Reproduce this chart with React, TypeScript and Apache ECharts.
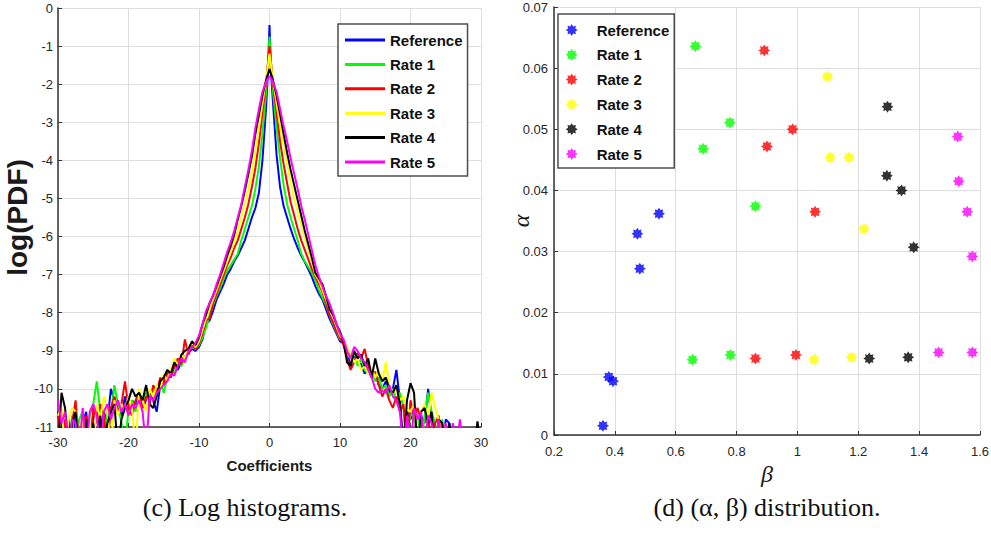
import React, { useEffect, useRef } from "react";
import * as echarts from "echarts";

// ---------- Left chart: log histograms ----------
const xLeftTail = [
  -30, -29.5, -29, -28.5, -28, -27.5, -27, -26.5, -26, -25.5,
  -25, -24.5, -24, -23.5, -23, -22.5, -22, -21.5, -21, -20.5,
  -20, -19.5, -19, -18.5, -18, -17.5, -17, -16.5, -16, -15.5,
  -15, -14.5, -14, -13.5, -13, -12.5, -12, -11.5, -11, -10.5,
];
const xCore = [
  -10, -9.5, -9, -8.5, -8, -7.5, -7, -6.5, -6, -5.5,
  -5, -4.5, -4, -3.5, -3, -2.5, -2, -1.5, -1, -0.5,
  -0.25, 0, 0.25,
  0.5, 1, 1.5, 2, 2.5, 3, 3.5, 4, 4.5, 5,
  5.5, 6, 6.5, 7, 7.5, 8, 8.5, 9, 9.5, 10,
];
const xRightTail = [
  10.5, 11, 11.5, 12, 12.5, 13, 13.5, 14, 14.5, 15,
  15.5, 16, 16.5, 17, 17.5, 18, 18.5, 19, 19.5, 20,
  20.5, 21, 21.5, 22, 22.5, 23, 23.5, 24, 24.5, 25,
  25.5, 26, 26.5, 27, 27.5, 28, 28.5, 29, 29.5, 30,
];

const refLeft = [
  -10.6, -10.9, -11.6, -10.8, -11.6, -10.7, -11.6, -10.9, -10.6, -11.6,
  -10.8, -10.5, -11.6, -10.6, -10.9, -10.0, -10.3, -10.5, -10.7, -10.2,
  -10.6, -10.3, -10.4, -10.2, -10.5, -10.3, -10.1, -10.3, -10.6, -9.9,
  -9.8, -9.6, -9.7, -9.4, -9.5, -9.3, -9.2, -9.05, -8.95, -9.0,
];
const refCore = [
  -8.9, -8.7, -8.3, -8.2, -7.95, -7.65, -7.45, -7.25, -7.0, -6.85,
  -6.65, -6.5, -6.3, -6.1, -5.8, -5.5, -5.25, -4.85, -4.0, -2.65,
  -1.8, -0.45, -1.8,
  -2.5, -3.85, -4.7, -5.2, -5.5, -5.8, -6.07, -6.3, -6.5, -6.67,
  -6.86, -7.05, -7.3, -7.5, -7.65, -7.9, -8.15, -8.35, -8.55, -8.75,
];
const refRight = [
  -8.8, -9.0, -9.4, -9.1, -9.3, -9.35, -9.6, -9.5, -9.7, -9.6,
  -9.9, -10.0, -9.8, -10.1, -10.0, -9.5, -10.3, -11.6, -10.6, -10.8,
  -10.5, -11.6, -10.7, -10.9, -10.0, -10.8, -11.6, -10.9, -11.6, -10.8,
  -10.9, -11.6, null, null, null, null, null, null, null, null,
];

const rate1Left = [
  -10.8, -11.6, -10.9, -11.6, -10.7, -11.6, -10.8, -10.6, -11.6, -10.7,
  -10.4, -9.8, -10.6, -11.6, -10.5, -10.7, -9.9, -10.4, -10.9, -11.6,
  -10.5, -10.3, -10.6, -10.2, -10.4, -10.1, -10.3, -10.0, -10.2, -9.8,
  -10.1, -9.7, -9.5, -9.6, -9.3, -9.4, -9.15, -9.0, -8.9, -8.95,
];
const rate1Core = [
  -8.85, -8.65, -8.4, -8.05, -7.8, -7.55, -7.35, -7.1, -6.9, -6.75,
  -6.6, -6.45, -6.1, -5.8, -5.5, -5.2, -4.75, -4.15, -3.3, -2.25,
  -1.55, -0.75, -1.55,
  -2.2, -3.15, -3.95, -4.65, -5.15, -5.5, -5.8, -6.1, -6.45, -6.65,
  -6.8, -6.95, -7.15, -7.4, -7.6, -7.8, -8.05, -8.3, -8.5, -8.7,
];
const rate1Right = [
  -8.75, -9.1, -9.2, -9.0, -9.4, -9.2, -9.5, -9.6, -9.5, -9.8,
  -9.7, -10.0, -9.9, -10.2, -10.0, -10.3, -10.1, -10.5, -11.6, -10.6,
  -10.8, -10.5, -11.6, -10.7, -10.1, -10.6, -10.9, -11.6, -10.8, -11.6,
  null, null, null, null, null, null, null, null, null, null,
];

const rate2Left = [
  -10.7, -11.6, -10.8, -11.6, -10.9, -10.3, -11.6, -10.9, -10.7, -11.6,
  -10.5, -10.9, -10.4, -10.7, -11.6, -10.5, -10.2, -10.6, -10.4, -9.8,
  -10.5, -10.7, -10.3, -10.1, -10.5, -10.2, -10.4, -9.9, -10.1, -9.7,
  -9.9, -9.5, -9.7, -9.4, -9.2, -9.35, -8.7, -9.1, -8.85, -8.95,
];
const rate2Core = [
  -8.8, -8.55, -8.2, -8.15, -7.75, -7.5, -7.25, -7.0, -6.75, -6.55,
  -6.3, -6.1, -5.8, -5.5, -5.15, -4.7, -4.2, -3.55, -2.75, -2.0,
  -1.5, -1.0, -1.5,
  -2.0, -2.75, -3.5, -4.1, -4.6, -5.1, -5.45, -5.8, -6.1, -6.35,
  -6.6, -6.85, -7.05, -7.25, -7.45, -7.75, -8.05, -8.25, -8.5, -8.65,
];
const rate2Right = [
  -8.85, -9.2, -9.5, -9.3, -9.05, -9.2, -8.95, -9.4, -9.6, -9.55,
  -9.9, -10.2, -10.0, -10.3, -10.5, -10.2, -10.6, -10.4, -11.6, -10.3,
  -10.7, -10.5, -10.8, -11.6, -10.7, -11.6, -10.9, -10.7, -11.6, -10.9,
  -11.6, null, null, null, null, null, null, null, null, null,
];

const rate3Left = [
  -10.7, -10.5, -11.6, -10.8, -10.5, -10.6, -11.6, -10.7, -11.6, -10.9,
  -11.6, -10.4, -10.8, -10.2, -10.6, -11.6, -10.3, -10.7, -10.4, -10.6,
  -10.2, -10.5, -11.6, -10.0, -10.3, -10.6, -10.0, -10.2, -9.9, -10.0,
  -9.6, -9.8, -9.5, -9.2, -9.4, -9.1, -9.2, -8.9, -8.8, -8.9,
];
const rate3Core = [
  -8.75, -8.45, -8.15, -7.9, -7.65, -7.4, -7.15, -6.9, -6.65, -6.4,
  -6.15, -5.85, -5.5, -5.15, -4.75, -4.3, -3.75, -3.15, -2.5, -1.9,
  -1.55, -1.2, -1.55,
  -1.9, -2.5, -3.1, -3.6, -4.1, -4.55, -5.0, -5.35, -5.7, -6.05,
  -6.35, -6.65, -7.0, -7.15, -7.4, -7.65, -7.9, -8.05, -8.35, -8.6,
];
const rate3Right = [
  -8.7, -8.9, -9.1, -9.3, -9.2, -9.5, -9.4, -9.6, -9.45, -9.7,
  -9.5, -9.8, -9.3, -9.9, -10.1, -10.0, -10.3, -10.2, -10.5, -10.6,
  -10.4, -11.6, -10.6, -10.4, -10.8, -10.1, -10.5, -10.8, -11.6, -10.9,
  -11.6, null, null, null, null, null, null, null, null, null,
];

const rate4Left = [
  -11.6, -10.1, -10.5, -11.6, -10.9, -10.6, -11.6, -11.6, -10.8, -11.6,
  -10.9, -11.6, -10.7, -11.6, -10.9, -10.6, -10.4, -11.6, -10.8, -10.5,
  -10.3, -10.0, -10.2, -10.1, -10.3, -9.9, -10.4, -10.5, -10.2, -9.8,
  -9.7, -9.5, -9.6, -9.3, -9.45, -9.1, -9.0, -8.95, -8.75, -8.85,
];
const rate4Core = [
  -8.65, -8.3, -8.05, -7.75, -7.55, -7.3, -7.05, -6.8, -6.5, -6.25,
  -5.95, -5.55, -5.2, -4.8, -4.35, -3.9, -3.3, -2.8, -2.3, -1.9,
  -1.75, -1.6, -1.75,
  -1.9, -2.3, -2.8, -3.3, -3.8, -4.25, -4.65, -5.05, -5.45, -5.85,
  -6.2, -6.55, -6.95, -7.1, -7.25, -7.55, -7.9, -8.05, -8.3, -8.5,
];
const rate4Right = [
  -8.75, -9.3, -9.4, -9.0, -9.2, -9.1, -9.4, -9.2, -9.7, -9.2,
  -9.6, -9.8, -9.7, -10.0, -10.1, -9.9, -10.4, -11.6, -10.3, -9.85,
  -10.1, -11.6, -10.6, -10.5, -10.9, -10.6, -11.6, -10.8, -10.9, -11.6,
  -10.9, -11.6, null, null, null, null, null, -11.6, -10.85, -11.6,
];

const rate5Left = [
  -10.3, -10.9, -10.6, -11.6, -10.8, -10.9, -11.6, -10.5, -11.6, -10.6,
  -10.4, -10.7, -11.6, -10.6, -10.4, -10.8, -10.5, -10.3, -10.6, -10.4,
  -10.7, -10.4, -10.5, -10.3, -10.6, -11.6, -10.2, -10.3, -10.1, -10.0,
  -9.9, -9.8, -9.6, -9.65, -9.4, -9.2, -9.3, -9.0, -8.9, -8.8,
];
const rate5Core = [
  -8.6, -8.3, -7.95, -7.75, -7.55, -7.25, -7.0, -6.7, -6.4, -6.15,
  -5.85, -5.5, -5.15, -4.7, -4.25, -3.75, -3.15, -2.65, -2.2, -1.95,
  -1.85, -1.8, -1.85,
  -1.95, -2.2, -2.65, -3.1, -3.5, -3.95, -4.35, -4.75, -5.2, -5.55,
  -5.95, -6.35, -6.75, -7.05, -7.3, -7.55, -7.75, -8.0, -8.3, -8.55,
];
const rate5Right = [
  -8.7, -9.0, -9.2, -8.9, -9.0, -9.2, -9.3, -9.5, -9.7, -10.0,
  -10.1, -10.05, -10.1, -9.9, -10.2, -10.3, -10.6, -11.6, -10.7, -11.6,
  -10.5, -10.8, -10.6, -11.6, -10.7, -10.9, -11.6, -10.8, -11.6, -10.9,
  -11.6, -10.9, -11.6, -10.8, -11.6, null, null, null, null, null,
];

const seriesNames = ["Reference", "Rate 1", "Rate 2", "Rate 3", "Rate 4", "Rate 5"];
const seriesColors = ["#0000ff", "#00ff00", "#ff0000", "#ffff00", "#000000", "#ff00ff"];
const logParts = [
  [refLeft, refCore, refRight],
  [rate1Left, rate1Core, rate1Right],
  [rate2Left, rate2Core, rate2Right],
  [rate3Left, rate3Core, rate3Right],
  [rate4Left, rate4Core, rate4Right],
  [rate5Left, rate5Core, rate5Right],
];

// ---------- Right chart: (alpha, beta) distribution ----------
const refBeta = [0.361, 0.38, 0.394, 0.474, 0.482, 0.545];
const refAlpha = [0.0015, 0.0095, 0.0088, 0.0329, 0.0272, 0.0362];
const rate1Beta = [0.665, 0.69, 0.778, 0.862, 0.655, 0.78];
const rate1Alpha = [0.0636, 0.0468, 0.0511, 0.0374, 0.0123, 0.0131];
const rate2Beta = [0.891, 0.9, 0.984, 1.058, 0.862, 0.995];
const rate2Alpha = [0.0629, 0.0472, 0.05, 0.0365, 0.0125, 0.0131];
const rate3Beta = [1.098, 1.108, 1.169, 1.219, 1.055, 1.178];
const rate3Alpha = [0.0586, 0.0454, 0.0454, 0.0337, 0.0123, 0.0127];
const rate4Beta = [1.296, 1.294, 1.342, 1.382, 1.236, 1.364];
const rate4Alpha = [0.0537, 0.0424, 0.04, 0.0307, 0.0125, 0.0127];
const rate5Beta = [1.527, 1.53, 1.558, 1.575, 1.464, 1.575];
const rate5Alpha = [0.0488, 0.0415, 0.0365, 0.0292, 0.0135, 0.0135];
const scatterParts = [
  [refBeta, refAlpha],
  [rate1Beta, rate1Alpha],
  [rate2Beta, rate2Alpha],
  [rate3Beta, rate3Alpha],
  [rate4Beta, rate4Alpha],
  [rate5Beta, rate5Alpha],
];

const STAR =
  "path://M10 0 L6 2.49 L7.07 7.07 L2.49 6 L0 10 L-2.49 6 L-7.07 7.07 L-6 2.49 L-10 0 L-6 -2.49 L-7.07 -7.07 L-2.49 -6 L0 -10 L2.49 -6 L7.07 -7.07 L6 -2.49 Z";

const SANS = "'Liberation Sans', Arial, Helvetica, sans-serif";
const SERIF = "'Liberation Serif', 'Times New Roman', serif";
const AXIS_COLOR = "#333333";
const LABEL_COLOR = "#262626";
const GRID_COLOR = "#dedede";

const axisCommon = {
  axisLine: { show: true, onZero: false, lineStyle: { color: AXIS_COLOR, width: 1.5 } },
  axisTick: { show: true, inside: true, length: 4, lineStyle: { color: AXIS_COLOR, width: 1 } },
  splitLine: { show: true, lineStyle: { color: GRID_COLOR, width: 1 } },
};

function buildLeftOption() {
  const xs = [...xLeftTail, ...xCore, ...xRightTail];
  return {
    animation: false,
    backgroundColor: "#ffffff",
    grid: { left: 58, top: 8, width: 423, height: 419, containLabel: false, outerBoundsMode: "none" },
    xAxis: {
      type: "value",
      min: -30,
      max: 30,
      interval: 10,
      name: "Coefficients",
      nameLocation: "middle",
      nameGap: 31,
      nameMoveOverlap: false,
      nameTextStyle: { fontFamily: SANS, fontWeight: "bold", fontSize: 15, color: "#1a1a1a" },
      axisLabel: { margin: 9, fontFamily: SANS, fontSize: 13, color: LABEL_COLOR },
      ...axisCommon,
    },
    yAxis: {
      type: "value",
      min: -11,
      max: 0,
      interval: 1,
      name: "log(PDF)",
      nameLocation: "middle",
      nameRotate: 90,
      nameGap: 27,
      nameMoveOverlap: false,
      nameTextStyle: { fontFamily: SANS, fontWeight: "bold", fontSize: 28, color: "#1a1a1a" },
      axisLabel: { margin: 5, fontFamily: SANS, fontSize: 13, color: LABEL_COLOR },
      ...axisCommon,
    },
    legend: {
      orient: "vertical",
      left: 338,
      top: 24,
      padding: [7, 5, 5, 7],
      itemWidth: 40,
      itemHeight: 3,
      itemGap: 6.4,
      icon: "rect",
      selectedMode: false,
      borderColor: "#4d4d4d",
      borderWidth: 1.5,
      backgroundColor: "#ffffff",
      textStyle: { fontFamily: SANS, fontWeight: "bold", fontSize: 15, lineHeight: 18, color: "#111111" },
      data: seriesNames,
    },
    series: seriesNames.map((name, i) => {
      const ys = [...logParts[i][0], ...logParts[i][1], ...logParts[i][2]];
      return {
        type: "line",
        name,
        color: seriesColors[i],
        showSymbol: false,
        symbol: "none",
        clip: true,
        z: 2 + i,
        lineStyle: { width: 2, color: seriesColors[i] },
        data: xs.map((x, k) => [x, ys[k] == null ? "-" : ys[k]]),
      };
    }),
    graphic: [
      {
        type: "text",
        x: 245,
        y: 507,
        style: {
          text: "(c) Log histograms.",
          fontFamily: SERIF,
          fontSize: 26,
          fill: "#111111",
          align: "center",
          verticalAlign: "middle",
        },
      },
    ],
  };
}

function fmt(v: number, d: number) {
  return String(parseFloat(v.toFixed(d)));
}

function buildRightOption() {
  return {
    animation: false,
    backgroundColor: "#ffffff",
    grid: { left: 59, top: 7, width: 426, height: 428, containLabel: false, outerBoundsMode: "none" },
    xAxis: {
      type: "value",
      min: 0.2,
      max: 1.6,
      interval: 0.2,
      name: "β",
      nameLocation: "middle",
      nameGap: 27,
      nameMoveOverlap: false,
      nameTextStyle: { fontFamily: SERIF, fontStyle: "italic", fontSize: 24, color: "#1a1a1a" },
      axisLabel: { margin: 10, fontFamily: SANS, fontSize: 13, color: LABEL_COLOR, formatter: (v: number) => fmt(v, 1) },
      ...axisCommon,
    },
    yAxis: {
      type: "value",
      min: 0,
      max: 0.07,
      interval: 0.01,
      name: "α",
      nameLocation: "middle",
      nameRotate: 90,
      nameGap: 21,
      nameMoveOverlap: false,
      nameTextStyle: { fontFamily: SERIF, fontStyle: "italic", fontSize: 24, color: "#1a1a1a" },
      axisLabel: { margin: 6, fontFamily: SANS, fontSize: 13, color: LABEL_COLOR, formatter: (v: number) => fmt(v, 2) },
      ...axisCommon,
    },
    legend: {
      orient: "vertical",
      left: 63,
      top: 14,
      padding: [7, 5, 5, 7.7],
      itemWidth: 40,
      itemHeight: 12,
      itemGap: 6.8,
      icon: STAR,
      symbolKeepAspect: true,
      selectedMode: false,
      borderColor: "#4d4d4d",
      borderWidth: 1.5,
      backgroundColor: "#ffffff",
      textStyle: { fontFamily: SANS, fontWeight: "bold", fontSize: 15, lineHeight: 18, color: "#111111" },
      data: seriesNames,
    },
    series: seriesNames.map((name, i) => ({
      type: "scatter",
      name,
      color: seriesColors[i],
      symbol: STAR,
      symbolSize: 12,
      z: 2 + i,
      itemStyle: { color: seriesColors[i] },
      data: scatterParts[i][0].map((b, k) => [b, scatterParts[i][1][k]]),
    })),
    graphic: [
      {
        type: "text",
        x: 272,
        y: 507,
        style: {
          text: "(d) (α, β) distribution.",
          fontFamily: SERIF,
          fontSize: 26,
          fill: "#111111",
          align: "center",
          verticalAlign: "middle",
        },
      },
    ],
  };
}

export default function App() {
  const leftRef = useRef<HTMLDivElement>(null);
  const rightRef = useRef<HTMLDivElement>(null);
  useEffect(() => {
    const left = echarts.init(leftRef.current as HTMLDivElement, null, { renderer: "svg" });
    const right = echarts.init(rightRef.current as HTMLDivElement, null, { renderer: "svg" });
    left.setOption(buildLeftOption() as any);
    right.setOption(buildRightOption() as any);
    return () => {
      left.dispose();
      right.dispose();
    };
  }, []);
  return (
    <div style={{ position: "fixed", left: 0, top: 0, width: 991, height: 533, background: "#ffffff" }}>
      <div ref={leftRef} style={{ position: "absolute", left: 0, top: 0, width: 495, height: 533 }} />
      <div ref={rightRef} style={{ position: "absolute", left: 495, top: 0, width: 496, height: 533 }} />
    </div>
  );
}
